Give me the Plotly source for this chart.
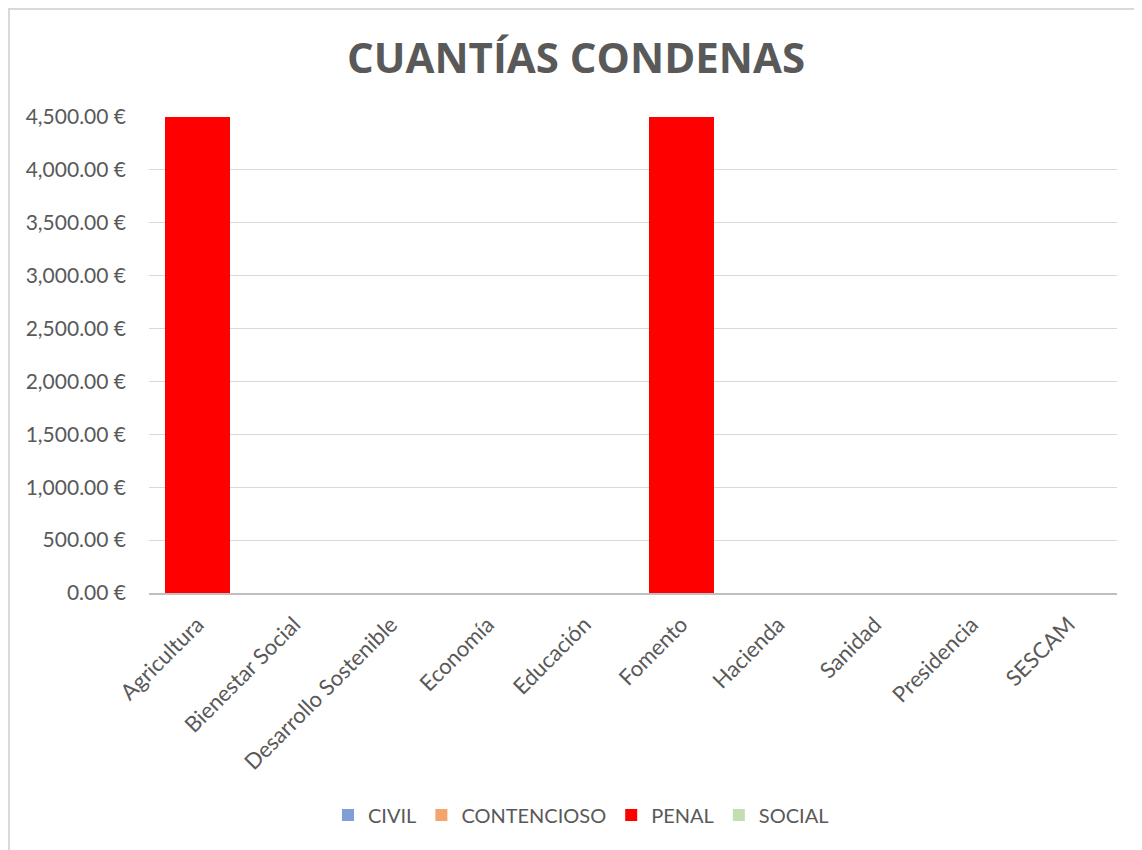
import plotly.graph_objects as go

categories = ["Agricultura", "Bienestar Social", "Desarrollo Sostenible", "Economía",
              "Educación", "Fomento", "Hacienda", "Sanidad", "Presidencia", "SESCAM"]
civil = [0, 0, 0, 0, 0, 0, 0, 0, 0, 0]
contencioso = [0, 0, 0, 0, 0, 0, 0, 0, 0, 0]
penal = [4500, 0, 0, 0, 0, 4500, 0, 0, 0, 0]
social = [0, 0, 0, 0, 0, 0, 0, 0, 0, 0]
y_ticks = [0, 500, 1000, 1500, 2000, 2500, 3000, 3500, 4000, 4500]
y_ticktext = [f"{v:,.2f} €" for v in y_ticks]

series = [("CIVIL", civil, "#7F9FD6"), ("CONTENCIOSO", contencioso, "#F4A46C"),
          ("PENAL", penal, "#FF0000"), ("SOCIAL", social, "#C3DFB0")]

W, H = 1142, 850
OFF = 8  # page body margin
# plot area in screen coordinates
L, R, T, B = 149 - OFF, 1117 - OFF, 117 - OFF, 593 - OFF

fig = go.Figure()
for name, vals, col in series:
    fig.add_trace(go.Bar(x=categories, y=vals, name=name, marker=dict(color=col, line=dict(width=0))))

pw, ph = R - L, B - T
def px(x):
    return (x - L) / pw
def py(y):
    return (B - y) / ph

fig.update_layout(
    width=W, height=H,
    barmode="stack", bargap=0.33,
    margin=dict(l=L, r=W - R, t=T, b=H - B, pad=0),
    paper_bgcolor="white", plot_bgcolor="white",
    font=dict(family="Lato, Open Sans, sans-serif", color="#595959", size=20),
    title=dict(text="<b>CUANTÍAS CONDENAS</b>", x=(576 - OFF) / W, xanchor="center", xref="container",
               y=1 - (58 - OFF) / H, yanchor="middle", yref="container",
               font=dict(size=42, color="#595959", family="Open Sans, sans-serif")),
    xaxis=dict(tickangle=-45, showgrid=False, showline=True, linecolor="#BFBFBF", linewidth=2,
               ticks="", ticklabelstandoff=8, tickfont=dict(size=22, color="#595959")),
    yaxis=dict(range=[0, 4500], tickvals=y_ticks, ticktext=y_ticktext,
               showgrid=True, gridcolor="#D9D9D9", gridwidth=1.3, zeroline=False,
               showline=False, ticks="", ticklabelstandoff=22,
               tickfont=dict(size=21, color="#595959")),
    legend=dict(orientation="h", xref="container", x=(581 - OFF) / W, xanchor="center",
                yref="container", y=1 - (815 - OFF) / H, yanchor="middle",
                font=dict(size=20, color="#595959"), traceorder="normal"),
    shapes=[dict(type="rect", xref="paper", yref="paper",
                 x0=px(1), x1=px(W + 5), y0=py(H + 5), y1=py(1),
                 line=dict(color="#D9D9D9", width=2), fillcolor="rgba(0,0,0,0)", layer="below")],
)

fig.write_html("out.html")
